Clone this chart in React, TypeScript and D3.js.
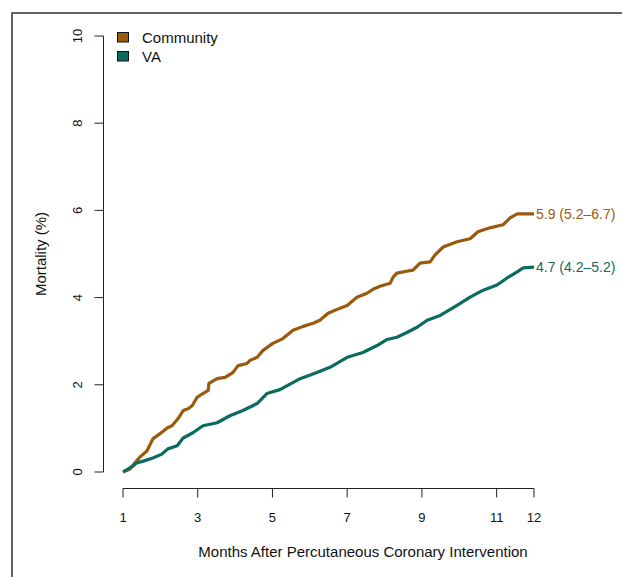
import React, { useEffect, useRef } from 'react';
import * as d3 from 'd3';

// Kaplan-Meier style cumulative mortality
const communityMonths = [1.0, 1.19, 1.32, 1.46, 1.64, 1.8, 1.99, 2.18, 2.31, 2.47, 2.61, 2.74, 2.85, 2.98, 3.14, 3.28, 3.3, 3.52, 3.73, 3.94, 4.08, 4.32, 4.4, 4.59, 4.75, 5.01, 5.28, 5.55, 5.82, 6.09, 6.27, 6.49, 6.73, 7.0, 7.26, 7.53, 7.69, 7.88, 8.15, 8.23, 8.33, 8.63, 8.76, 8.95, 9.22, 9.35, 9.57, 9.94, 10.29, 10.5, 10.82, 11.17, 11.36, 11.55, 12.0];
const communityValues = [0.0, 0.07, 0.21, 0.35, 0.48, 0.76, 0.88, 1.01, 1.06, 1.22, 1.41, 1.45, 1.52, 1.71, 1.8, 1.87, 2.03, 2.14, 2.17, 2.28, 2.44, 2.49, 2.56, 2.63, 2.79, 2.95, 3.06, 3.25, 3.34, 3.41, 3.48, 3.64, 3.73, 3.82, 4.01, 4.1, 4.19, 4.26, 4.33, 4.47, 4.56, 4.61, 4.63, 4.79, 4.82, 4.98, 5.16, 5.28, 5.35, 5.51, 5.6, 5.67, 5.83, 5.92, 5.92];

const vaMonths = [1.0, 1.27, 1.37, 1.54, 1.8, 2.04, 2.2, 2.45, 2.61, 2.87, 3.14, 3.52, 3.86, 4.21, 4.59, 4.85, 5.2, 5.74, 6.19, 6.54, 7.0, 7.42, 7.8, 8.07, 8.33, 8.6, 8.87, 9.14, 9.49, 9.94, 10.29, 10.64, 11.01, 11.28, 11.55, 11.71, 12.0];
const vaValues = [0.0, 0.14, 0.21, 0.25, 0.32, 0.41, 0.53, 0.6, 0.78, 0.9, 1.06, 1.13, 1.29, 1.41, 1.57, 1.8, 1.89, 2.14, 2.28, 2.4, 2.63, 2.74, 2.9, 3.04, 3.09, 3.2, 3.32, 3.48, 3.59, 3.82, 4.01, 4.17, 4.29, 4.45, 4.59, 4.68, 4.7];

const seriesNames = ['Community', 'VA'];
const seriesColors = ['#9a5a0e', '#0b6b61'];
const endLabels = ['5.9 (5.2\u20136.7)', '4.7 (4.2\u20135.2)'];

const xTicks = [1, 3, 5, 7, 9, 11, 12];
const yTicks = [0, 2, 4, 6, 8, 10];

const FONT = "'Liberation Sans', Arial, Helvetica, sans-serif";

export default function App() {
  const svgRef = useRef<SVGSVGElement>(null);

  useEffect(() => {
    const w = 622;
    const h = 577;
    const svg = d3.select(svgRef.current)
      .attr('width', w)
      .attr('height', h)
      .style('font-family', FONT);
    svg.selectAll('*').remove();

    // outer frame (runs off right and bottom)
    svg.append('rect')
      .attr('x', 12).attr('y', 13)
      .attr('width', 700).attr('height', 700)
      .attr('fill', 'white')
      .attr('stroke', '#333')
      .attr('stroke-width', 1.5);

    const xScale = d3.scaleLinear().domain([1, 12]).range([123, 534]);
    const yScale = d3.scaleLinear().domain([0, 10]).range([472, 36]);

    // y axis
    const yAxisX = 103.5;
    svg.append('line')
      .attr('x1', yAxisX).attr('x2', yAxisX)
      .attr('y1', yScale(0)).attr('y2', yScale(10))
      .attr('stroke', '#222').attr('stroke-width', 1);
    yTicks.forEach(t => {
      svg.append('line')
        .attr('x1', yAxisX - 9).attr('x2', yAxisX)
        .attr('y1', yScale(t)).attr('y2', yScale(t))
        .attr('stroke', '#222');
      svg.append('text')
        .attr('transform', `translate(82,${yScale(t)}) rotate(-90)`)
        .attr('text-anchor', 'middle')
        .attr('font-size', 13)
        .attr('fill', '#111')
        .text(t);
    });

    svg.append('text')
      .attr('transform', `translate(46,${(yScale(0) + yScale(10)) / 2}) rotate(-90)`)
      .attr('text-anchor', 'middle')
      .attr('font-size', 15)
      .attr('fill', '#111')
      .text('Mortality (%)');

    // x axis
    const xAxisY = 488.5;
    svg.append('line')
      .attr('x1', xScale(1)).attr('x2', xScale(12))
      .attr('y1', xAxisY).attr('y2', xAxisY)
      .attr('stroke', '#222');
    xTicks.forEach(t => {
      svg.append('line')
        .attr('x1', xScale(t)).attr('x2', xScale(t))
        .attr('y1', xAxisY).attr('y2', xAxisY + 9)
        .attr('stroke', '#222');
      svg.append('text')
        .attr('x', xScale(t))
        .attr('y', 522)
        .attr('text-anchor', 'middle')
        .attr('font-size', 13)
        .attr('fill', '#111')
        .text(t);
    });

    svg.append('text')
      .attr('x', 363)
      .attr('y', 557)
      .attr('text-anchor', 'middle')
      .attr('font-size', 15)
      .attr('fill', '#111')
      .text('Months After Percutaneous Coronary Intervention');

    // curves
    const line = d3.line<[number, number]>()
      .x(d => xScale(d[0]))
      .y(d => yScale(d[1]))
      .curve(d3.curveLinear);

    const series: [number, number][][] = [
      communityMonths.map((m, i) => [m, communityValues[i]]),
      vaMonths.map((m, i) => [m, vaValues[i]]),
    ];

    series.forEach((pts, i) => {
      svg.append('path')
        .datum(pts)
        .attr('fill', 'none')
        .attr('stroke', seriesColors[i])
        .attr('stroke-width', 3.2)
        .attr('stroke-linejoin', 'round')
        .attr('d', line);

      const last = pts[pts.length - 1];
      svg.append('text')
        .attr('x', xScale(last[0]) + 2)
        .attr('y', yScale(last[1]))
        .attr('dy', '0.35em')
        .attr('font-size', 14)
        .attr('fill', seriesColors[i])
        .text(endLabels[i]);
    });

    // legend
    seriesNames.forEach((name, i) => {
      svg.append('rect')
        .attr('x', 117.5).attr('y', 32.5 + i * 19)
        .attr('width', 11).attr('height', 9.5)
        .attr('fill', seriesColors[i])
        .attr('stroke', '#111')
        .attr('stroke-width', 1);
      svg.append('text')
        .attr('x', 142)
        .attr('y', 37.5 + i * 19)
        .attr('dy', '0.35em')
        .attr('font-size', 15)
        .attr('fill', '#111')
        .text(name);
    });
  }, []);

  return (
    <div style={{ position: 'absolute', left: 0, top: 0 }}>
      <svg ref={svgRef} style={{ display: 'block' }} />
    </div>
  );
}
